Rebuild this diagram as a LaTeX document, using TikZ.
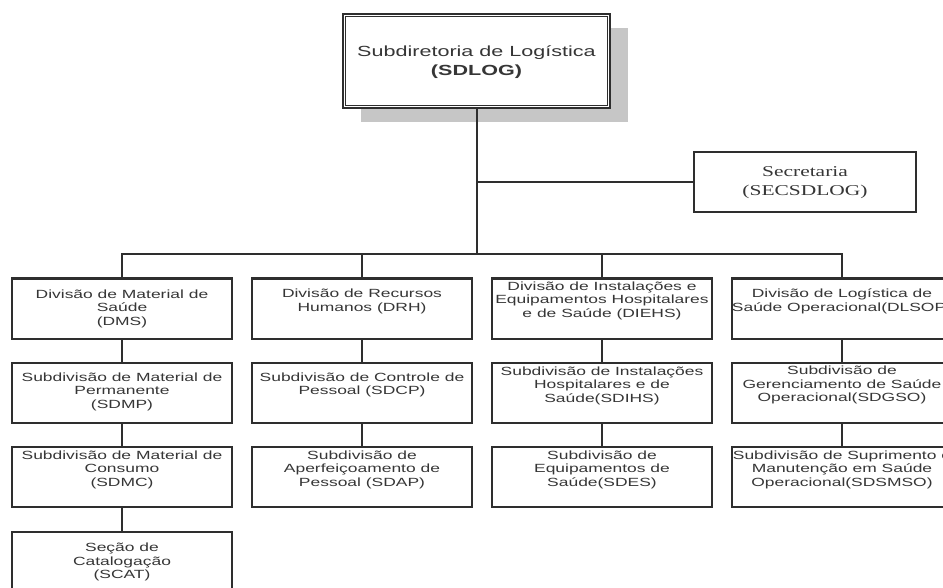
\documentclass[tikz,border=0pt]{standalone}
\usepackage{fontspec}
\setmainfont[FakeStretch=1.47]{Liberation Sans}
\newfontfamily\serifst[FakeStretch=1.43]{Liberation Serif}
\usetikzlibrary{shadows}
\definecolor{linec}{HTML}{2E2E2E}
\definecolor{textc}{HTML}{363636}
\definecolor{shadowc}{HTML}{C6C6C6}
\begin{document}
\begin{tikzpicture}[x=0.75pt,y=-0.75pt,
  box/.style={draw=linec, line width=1.5pt, fill=white, minimum width=165pt, minimum height=45pt, inner sep=0pt},
  txt/.style={font=\fontsize{8.9pt}{10.1pt}\selectfont, align=center, text=textc, inner sep=0pt},
  conn/.style={draw=linec, line width=1.5pt}]
\useasboundingbox (0,0) rectangle (943,588);
\clip (0,0) rectangle (943,588);
% top box
\node[box, minimum width=200.25pt, minimum height=70.5pt, line width=1.7pt,
  drop shadow={shadow xshift=13.5pt, shadow yshift=-10.5pt, fill=shadowc, opacity=1}] (top) at (476.5,61) {};
\draw[linec, line width=0.6pt] ([xshift=2.6pt,yshift=-2.6pt]top.north west) rectangle ([xshift=-2.6pt,yshift=2.6pt]top.south east);
\node[txt, font=\fontsize{11pt}{14.25pt}\selectfont] (ttop) at (476.5,62.5) {Subdiretoria de Logística\\\textbf{(SDLOG)}};
% secretaria
\node[box, minimum width=166.5pt] (sec) at (805,182) {};
\node[txt, font=\serifst\fontsize{11.25pt}{14.25pt}\selectfont] (tsec) at (805,182.5) {Secretaria\\(SECSDLOG)};
% row 1
\node[box] (dms) at (122,308.5) {};
\node[box] (drh) at (362,308.5) {};
\node[box] (diehs) at (602,308.5) {};
\node[box] (dlsop) at (842,308.5) {};
% row 2
\node[box] (sdmp) at (122,393) {};
\node[box] (sdcp) at (362,393) {};
\node[box] (sdihs) at (602,393) {};
\node[box] (sdgso) at (842,393) {};
% row 3
\node[box] (sdmc) at (122,477) {};
\node[box] (sdap) at (362,477) {};
\node[box] (sdes) at (602,477) {};
\node[box] (sdsmso) at (842,477) {};
% row 4
\node[box] (scat) at (122,562) {};
% texts
\node[txt] (t1) at (122,308.5) {Divisão de Material de\\Saúde\\(DMS)};
\node[txt] (t2) at (362,301.5) {Divisão de Recursos\\Humanos (DRH)};
\node[txt] (t3) at (602,300.5) {Divisão de Instalações e\\Equipamentos Hospitalares\\e de Saúde (DIEHS)};
\node[txt] (t4) at (842,301.5) {Divisão de Logística de\\Saúde Operacional(DLSOP)};
\node[txt] (t5) at (122,391.5) {Subdivisão de Material de\\Permanente\\(SDMP)};
\node[txt] (t6) at (362,385) {Subdivisão de Controle de\\Pessoal (SDCP)};
\node[txt] (t7) at (602,385.5) {Subdivisão de Instalações\\Hospitalares e de\\Saúde(SDIHS)};
\node[txt] (t8) at (842,385) {Subdivisão de\\Gerenciamento de Saúde\\Operacional(SDGSO)};
\node[txt] (t9) at (122,469.5) {Subdivisão de Material de\\Consumo\\(SDMC)};
\node[txt] (t10) at (362,469.5) {Subdivisão de\\Aperfeiçoamento de\\Pessoal (SDAP)};
\node[txt] (t11) at (602,469.5) {Subdivisão de\\Equipamentos de\\Saúde(SDES)};
\node[txt] (t12) at (842,469.5) {Subdivisão de Suprimento e\\Manutenção em Saúde\\Operacional(SDSMSO)};
\node[txt] (t13) at (122,562) {Seção de\\Catalogação\\(SCAT)};
% connectors
\coordinate (busc) at (476.5,254);
\coordinate (secj) at (476.5,182);
\draw[conn] (top.south) -- (busc);
\draw[conn] (secj) -- (sec.west);
\draw[conn] (dms.north) |- (dlsop.north |- busc) -- (dlsop.north);
\draw[conn] (drh.north) -- (drh.north |- busc);
\draw[conn] (diehs.north) -- (diehs.north |- busc);
\draw[conn] (dms.south) -- (sdmp.north);
\draw[conn] (sdmp.south) -- (sdmc.north);
\draw[conn] (sdmc.south) -- (scat.north);
\draw[conn] (drh.south) -- (sdcp.north);
\draw[conn] (sdcp.south) -- (sdap.north);
\draw[conn] (diehs.south) -- (sdihs.north);
\draw[conn] (sdihs.south) -- (sdes.north);
\draw[conn] (dlsop.south) -- (sdgso.north);
\draw[conn] (sdgso.south) -- (sdsmso.north);
\end{tikzpicture}
\end{document}
